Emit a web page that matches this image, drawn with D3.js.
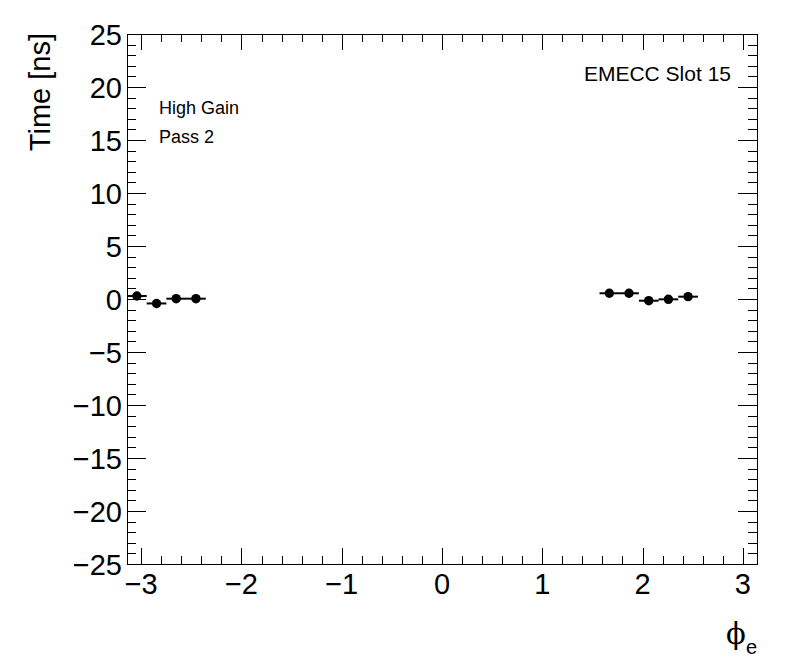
<!DOCTYPE html>
<html>
<head>
<meta charset="utf-8">
<script src="https://cdn.jsdelivr.net/npm/d3@7"></script>
<style>
  body { margin: 0; background: #fff; }
  text { font-family: "Liberation Sans", Arial, Helvetica, sans-serif; }
</style>
</head>
<body>
<div id="container"></div>
<script>
/* CONSTANTS AND GLOBALS */
const width = 796,
  height = 672,
  margin = { top: 34, bottom: 108, left: 127, right: 39 };

const binWidth = 2 * Math.PI / 32;

// filled bins: phi bin centres and mean time (ns)
const phiValues = [-3.043, -2.847, -2.651, -2.454, 1.669, 1.865, 2.062, 2.258, 2.454];
const timeValues = [0.28, -0.42, 0.03, 0.03, 0.54, 0.54, -0.16, -0.03, 0.22];

const xTicks = [-3, -2, -1, 0, 1, 2, 3];
const yTicks = [-25, -20, -15, -10, -5, 0, 5, 10, 15, 20, 25];

const labels = ["High Gain", "Pass 2"];
const title = "EMECC Slot 15";

const data = phiValues.map((p, i) => ({ phi: p, t: timeValues[i] }));

const svg = d3.select("#container")
  .append("svg")
  .attr("width", width)
  .attr("height", height);

const x = d3.scaleLinear()
  .domain([-Math.PI, Math.PI])
  .range([margin.left, width - margin.right]);

const y = d3.scaleLinear()
  .domain([-25, 25])
  .range([height - margin.bottom, margin.top]);

const x0 = margin.left, x1 = width - margin.right;
const y0 = height - margin.bottom, y1 = margin.top;

// minor ticks
const xMinor = d3.range(-3.2, 3.21, 0.2).filter(v => v >= -Math.PI && v <= Math.PI);
const yMinor = d3.range(-25, 26, 1);

const ticks = svg.append("g").attr("stroke", "black").attr("stroke-width", 1);

// x ticks bottom and top
xMinor.forEach(v => {
  const major = xTicks.some(t => Math.abs(t - v) < 1e-6);
  const len = major ? 16 : 8;
  const px = Math.round(x(v)) + 0.5;
  ticks.append("line").attr("x1", px).attr("x2", px).attr("y1", y0).attr("y2", y0 - len);
  ticks.append("line").attr("x1", px).attr("x2", px).attr("y1", y1).attr("y2", y1 + len);
});

// y ticks left and right
yMinor.forEach(v => {
  const major = v % 5 === 0;
  const len = major ? 19 : 9;
  const py = Math.round(y(v)) + 0.5;
  ticks.append("line").attr("x1", x0).attr("x2", x0 + len).attr("y1", py).attr("y2", py);
  ticks.append("line").attr("x1", x1).attr("x2", x1 - len).attr("y1", py).attr("y2", py);
});

// frame
svg.append("rect")
  .attr("x", x0 + 0.5)
  .attr("y", y1 + 0.5)
  .attr("width", x1 - x0)
  .attr("height", y0 - y1)
  .attr("fill", "none")
  .attr("stroke", "black")
  .attr("stroke-width", 1);

// tick labels
svg.selectAll("text.xlab")
  .data(xTicks)
  .join("text")
  .attr("class", "xlab")
  .attr("x", d => x(d))
  .attr("y", 594)
  .attr("text-anchor", "middle")
  .attr("font-size", 29)
  .text(d => d < 0 ? "\u2212" + Math.abs(d) : d);

svg.selectAll("text.ylab")
  .data(yTicks)
  .join("text")
  .attr("class", "ylab")
  .attr("x", 122)
  .attr("y", d => y(d) + 10.5)
  .attr("text-anchor", "end")
  .attr("font-size", 29)
  .text(d => d < 0 ? "\u2212" + Math.abs(d) : d);

// axis titles
svg.append("text")
  .attr("transform", `translate(50, ${y1 - 1}) rotate(-90)`)
  .attr("text-anchor", "end")
  .attr("font-size", 29)
  .text("Time [ns]");

const xt = svg.append("text")
  .attr("x", x1)
  .attr("y", 644)
  .attr("text-anchor", "end")
  .attr("font-size", 29);
xt.append("tspan").attr("font-family", "DejaVu Serif, serif").text("\u03d5");
xt.append("tspan").attr("dy", 10).attr("font-size", 20).text("e");

// data: horizontal bin-width bars + markers
svg.append("clipPath").attr("id", "frame")
  .append("rect").attr("x", x0).attr("y", y1).attr("width", x1 - x0).attr("height", y0 - y1);

const g = svg.append("g").attr("clip-path", "url(#frame)");

g.selectAll("line.err")
  .data(data)
  .join("line")
  .attr("class", "err")
  .attr("x1", d => x(d.phi - binWidth / 2))
  .attr("x2", d => x(d.phi + binWidth / 2))
  .attr("y1", d => y(d.t))
  .attr("y2", d => y(d.t))
  .attr("stroke", "black")
  .attr("stroke-width", 2);

g.selectAll("circle.pt")
  .data(data)
  .join("circle")
  .attr("class", "pt")
  .attr("cx", d => x(d.phi))
  .attr("cy", d => y(d.t))
  .attr("r", 4.7)
  .attr("fill", "black");

// annotations
svg.append("text")
  .attr("x", 731)
  .attr("y", 81)
  .attr("text-anchor", "end")
  .attr("font-size", 21)
  .text(title);

svg.selectAll("text.note")
  .data(labels)
  .join("text")
  .attr("class", "note")
  .attr("x", 159)
  .attr("y", (d, i) => 114 + i * 29)
  .attr("font-size", 18)
  .text(d => d);
</script>
</body>
</html>
